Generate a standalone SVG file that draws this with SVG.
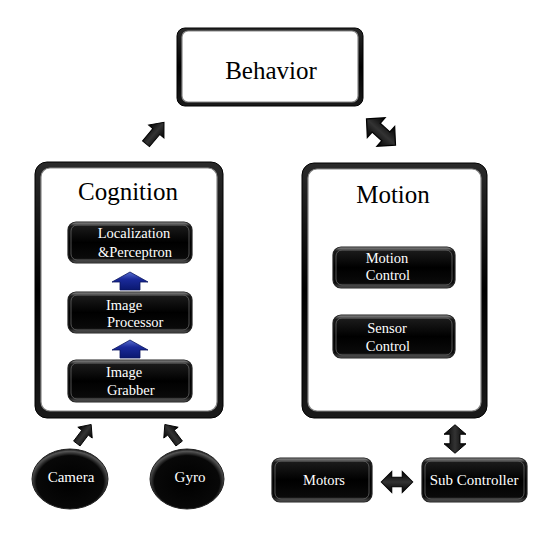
<svg xmlns="http://www.w3.org/2000/svg" width="554" height="533" viewBox="0 0 554 533">
<defs>
<linearGradient id="frameG" x1="0" y1="0" x2="0" y2="1">
<stop offset="0" stop-color="#2a2a2a"/><stop offset="0.5" stop-color="#000"/><stop offset="1" stop-color="#1a1a1a"/>
</linearGradient>
<linearGradient id="btnG" x1="0" y1="0" x2="0" y2="1">
<stop offset="0" stop-color="#9a9a9a"/><stop offset="0.1" stop-color="#1a1a1a"/><stop offset="0.5" stop-color="#000"/><stop offset="0.88" stop-color="#0a0a0a"/><stop offset="1" stop-color="#5a5a5a"/>
</linearGradient>
<radialGradient id="ellG" cx="0.5" cy="0.55" r="0.55">
<stop offset="0" stop-color="#000"/><stop offset="0.8" stop-color="#080808"/><stop offset="0.93" stop-color="#555"/><stop offset="1" stop-color="#111"/>
</radialGradient>
<linearGradient id="blueG" x1="0" y1="0" x2="0" y2="1">
<stop offset="0" stop-color="#5a6fd0"/><stop offset="0.4" stop-color="#1a2a9a"/><stop offset="1" stop-color="#0a1870"/>
</linearGradient>
<linearGradient id="arrG" x1="0" y1="0" x2="1" y2="0">
<stop offset="0" stop-color="#000"/><stop offset="0.5" stop-color="#333"/><stop offset="1" stop-color="#000"/>
</linearGradient>
<path id="arr1" d="M0,-14 L10,-2 L4.5,-2 L4.5,14 L-4.5,14 L-4.5,-2 L-10,-2 Z"/>
<path id="arr2" d="M0,-15 L11,-5 L5,-5 L5,5 L11,5 L0,15 L-11,5 L-5,5 L-5,-5 L-11,-5 Z"/>
<path id="blueArr" d="M0,0 L18,10 L10,10 L10,18 L-10,18 L-10,10 L-18,10 Z"/>
</defs>
<style>
.frame{fill:url(#frameG);stroke:#000;stroke-width:1}
.inner{fill:#fff;stroke:#888;stroke-width:1.2}
.btn{fill:url(#btnG);stroke:#222;stroke-width:1.2}
.btnin{fill:none;stroke:#666;stroke-width:0.8}
.ell{fill:url(#ellG);stroke:#222;stroke-width:1}
text{font-family:'Liberation Serif','DejaVu Serif','Times New Roman',serif}
.title{font-size:25px;fill:#000}
.lbl{font-size:14.5px;fill:#fff}
.ar{fill:url(#arrG);stroke:#000;stroke-width:1}
.blue{fill:url(#blueG);stroke:#0a1560;stroke-width:0.8}
</style>
<rect width="554" height="533" fill="#fff"/>

<g id="behavior">
<rect class="frame" x="177" y="28" width="186" height="78" rx="8"/>
<rect class="inner" x="182" y="31" width="176" height="71" rx="6"/>
<text class="title" x="271" y="79" text-anchor="middle" font-family="Liberation Serif, DejaVu Serif, serif">Behavior</text>
</g>

<g id="cognition">
<rect class="frame" x="35" y="162" width="188" height="256" rx="12"/>
<rect class="inner" x="41" y="168" width="176" height="243" rx="9"/>
<text class="title" x="128" y="200" text-anchor="middle" font-family="Liberation Serif, DejaVu Serif, serif">Cognition</text>
</g>

<g id="localization">
<rect class="btn" x="68" y="222" width="124" height="41" rx="8"/>
<rect class="btnin" x="71" y="225" width="118" height="35" rx="6"/>
<text class="lbl" x="134" y="238" text-anchor="middle" font-family="Liberation Serif, DejaVu Serif, serif">Localization</text>
<text class="lbl" x="135" y="257" text-anchor="middle" font-family="Liberation Serif, DejaVu Serif, serif">&amp;Perceptron</text>
</g>

<g id="image-processor">
<rect class="btn" x="68" y="292" width="124" height="41" rx="8"/>
<rect class="btnin" x="71" y="295" width="118" height="35" rx="6"/>
<text class="lbl" x="106" y="310" font-family="Liberation Serif, DejaVu Serif, serif">Image</text>
<text class="lbl" x="107" y="327" font-family="Liberation Serif, DejaVu Serif, serif">Processor</text>
</g>

<g id="image-grabber">
<rect class="btn" x="68" y="360" width="124" height="42" rx="8"/>
<rect class="btnin" x="71" y="363" width="118" height="36" rx="6"/>
<text class="lbl" x="106" y="377" font-family="Liberation Serif, DejaVu Serif, serif">Image</text>
<text class="lbl" x="107" y="395" font-family="Liberation Serif, DejaVu Serif, serif">Grabber</text>
</g>

<g id="motion">
<rect class="frame" x="302" y="163" width="185" height="255" rx="12"/>
<rect class="inner" x="308" y="169" width="173" height="242" rx="9"/>
<text class="title" x="393" y="203" text-anchor="middle" font-family="Liberation Serif, DejaVu Serif, serif">Motion</text>
</g>

<g id="motion-control">
<rect class="btn" x="333" y="247" width="122" height="41" rx="8"/>
<rect class="btnin" x="336" y="250" width="116" height="35" rx="6"/>
<text class="lbl" x="387" y="263" text-anchor="middle" font-family="Liberation Serif, DejaVu Serif, serif">Motion</text>
<text class="lbl" x="388" y="280" text-anchor="middle" font-family="Liberation Serif, DejaVu Serif, serif">Control</text>
</g>

<g id="sensor-control">
<rect class="btn" x="333" y="315" width="122" height="43" rx="8"/>
<rect class="btnin" x="336" y="318" width="116" height="37" rx="6"/>
<text class="lbl" x="387" y="333" text-anchor="middle" font-family="Liberation Serif, DejaVu Serif, serif">Sensor</text>
<text class="lbl" x="388" y="351" text-anchor="middle" font-family="Liberation Serif, DejaVu Serif, serif">Control</text>
</g>

<g id="camera">
<ellipse class="ell" cx="70" cy="479" rx="38" ry="30"/>
<text class="lbl" x="71" y="482" text-anchor="middle" style="font-size:15px" font-family="Liberation Serif, DejaVu Serif, serif">Camera</text>
</g>

<g id="gyro">
<ellipse class="ell" cx="187" cy="479" rx="37" ry="30"/>
<text class="lbl" x="190" y="482" text-anchor="middle" style="font-size:15px" font-family="Liberation Serif, DejaVu Serif, serif">Gyro</text>
</g>

<g id="motors">
<rect class="btn" x="272" y="458" width="100" height="44" rx="8"/>
<rect class="btnin" x="275" y="461" width="94" height="38" rx="6"/>
<text class="lbl" x="324" y="485" text-anchor="middle" font-family="Liberation Serif, DejaVu Serif, serif">Motors</text>
</g>

<g id="sub-controller">
<rect class="btn" x="422" y="458" width="105" height="44" rx="8"/>
<rect class="btnin" x="425" y="461" width="99" height="38" rx="6"/>
<text class="lbl" x="474" y="485" text-anchor="middle" style="font-size:15px" font-family="Liberation Serif, DejaVu Serif, serif">Sub Controller</text>
</g>

<g id="connectors">
<use href="#arr1" class="ar" transform="translate(155,133) rotate(40)"/>
<use href="#arr2" class="ar" transform="translate(381,132) rotate(-48) scale(1.2,1.3)"/>
<use href="#arr1" class="ar" transform="translate(84,434) rotate(37) scale(0.9,0.85)"/>
<use href="#arr1" class="ar" transform="translate(172,434) rotate(-37) scale(0.9,0.85)"/>
<use href="#arr2" class="ar" transform="translate(455,439) scale(1,0.95)"/>
<use href="#arr2" class="ar" transform="translate(397,482) rotate(90) scale(0.95,1.05)"/>
<use href="#blueArr" class="blue" transform="translate(130,272)"/>
<use href="#blueArr" class="blue" transform="translate(130,340)"/>
</g>
</svg>
